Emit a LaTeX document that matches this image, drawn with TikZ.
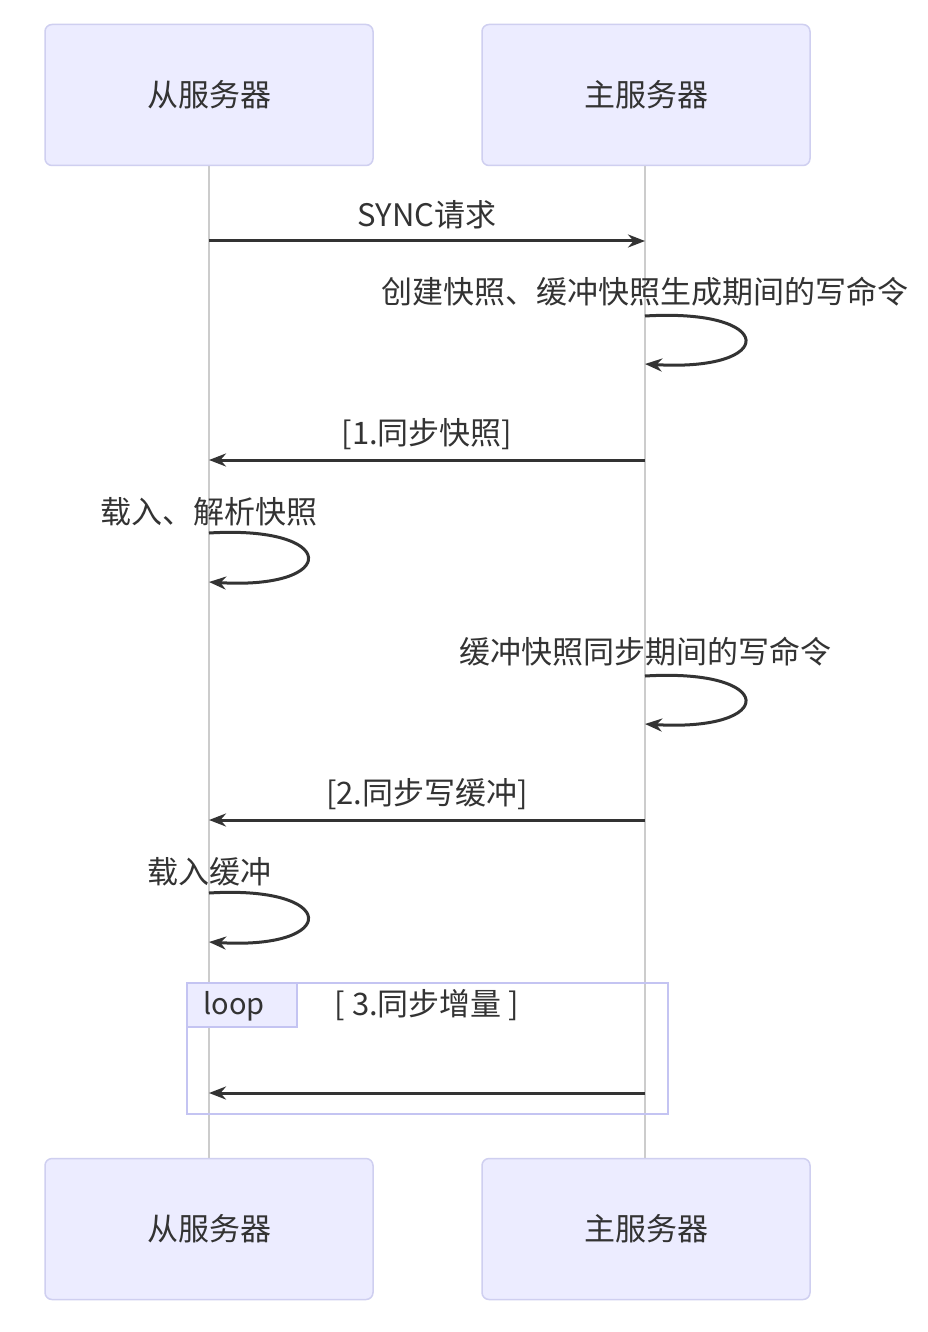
\documentclass[tikz,border=0pt]{standalone}
\usepackage{fontspec}
\setmainfont{Noto Sans CJK SC}
\usetikzlibrary{arrows.meta}
\definecolor{actfill}{HTML}{ECECFF}
\definecolor{actdraw}{HTML}{CFCFF0}
\definecolor{lifecol}{HTML}{CCCCCC}
\definecolor{txtcol}{HTML}{333333}
\definecolor{loopdraw}{HTML}{C4C4F2}
\tikzset{
  actor/.style={draw=actdraw, fill=actfill, line width=1.5pt, rounded corners=7pt,
    minimum width=328pt, minimum height=141pt, text=txtcol, font=\fontsize{31}{36}\selectfont},
  lifeline/.style={draw=lifecol, line width=1.5pt},
  msg/.style={draw=txtcol, line width=3pt, -{Stealth[length=17pt,width=13pt]}},
  msgtext/.style={text=txtcol, font=\fontsize{31}{36}\selectfont, inner sep=0pt},
  loopbox/.style={draw=loopdraw, line width=2pt},
  looplabel/.style={draw=loopdraw, fill=actfill, line width=2pt},
  looptext/.style={text=txtcol, font=\fontsize{29}{32}\selectfont, inner sep=0pt}
}
\begin{document}
\begin{tikzpicture}[x=1pt,y=-1pt]
\useasboundingbox[fill=white] (0,0) rectangle (928,1332);
% lifelines
\coordinate (sT) at (209,165); \coordinate (sB) at (209,1158);
\coordinate (mT) at (645,165); \coordinate (mB) at (645,1158);
\draw[lifeline] (sT) -- (sB);
\draw[lifeline] (mT) -- (mB);
% actors
\node[actor] (s1) at (209,95) {从服务器};
\node[actor] (m1) at (646,95) {主服务器};
\node[actor] (s2) at (209,1229) {从服务器};
\node[actor] (m2) at (646,1229) {主服务器};
% SYNC
\coordinate (a1s) at (209,241); \coordinate (a1m) at (645,241);
\node[msgtext] (t1) at (427,215) {SYNC请求};
\draw[msg] (a1s) -- (a1m);
% self loop 1
\node[msgtext] (t2) at (645,292) {创建快照、缓冲快照生成期间的写命令};
\coordinate (l1a) at (645,316); \coordinate (l1b) at (645,364);
\draw[msg] (l1a) .. controls (778,308) and (778,372) .. (l1b);
% 1.同步快照
\node[msgtext] (t3) at (427,434) {[1.同步快照]};
\coordinate (a2m) at (645,460); \coordinate (a2s) at (209,460);
\draw[msg] (a2m) -- (a2s);
% self loop 2
\node[msgtext] (t4) at (209,512) {载入、解析快照};
\coordinate (l2a) at (209,533); \coordinate (l2b) at (209,582);
\draw[msg] (l2a) .. controls (340,525) and (340,590) .. (l2b);
% self loop 3
\node[msgtext] (t5) at (645,652) {缓冲快照同步期间的写命令};
\coordinate (l3a) at (645,676); \coordinate (l3b) at (645,724);
\draw[msg] (l3a) .. controls (778,668) and (778,732) .. (l3b);
% 2.同步写缓冲
\node[msgtext] (t6) at (427,794) {[2.同步写缓冲]};
\coordinate (a3m) at (645,820); \coordinate (a3s) at (209,820);
\draw[msg] (a3m) -- (a3s);
% self loop 4
\node[msgtext] (t7) at (209,872) {载入缓冲};
\coordinate (l4a) at (209,893); \coordinate (l4b) at (209,942);
\draw[msg] (l4a) .. controls (340,885) and (340,950) .. (l4b);
% loop frame
\draw[loopbox] (187,983) rectangle (668,1114);
\draw[looplabel] (187,983) rectangle (297,1027);
\node[looptext, anchor=west] (lp) at (203,1006) {loop};
\node[msgtext] (t8) at (427,1005) {[ 3.同步增量 ]};
\coordinate (a4m) at (645,1093); \coordinate (a4s) at (209,1093);
\draw[msg] (a4m) -- (a4s);
\end{tikzpicture}
\end{document}
